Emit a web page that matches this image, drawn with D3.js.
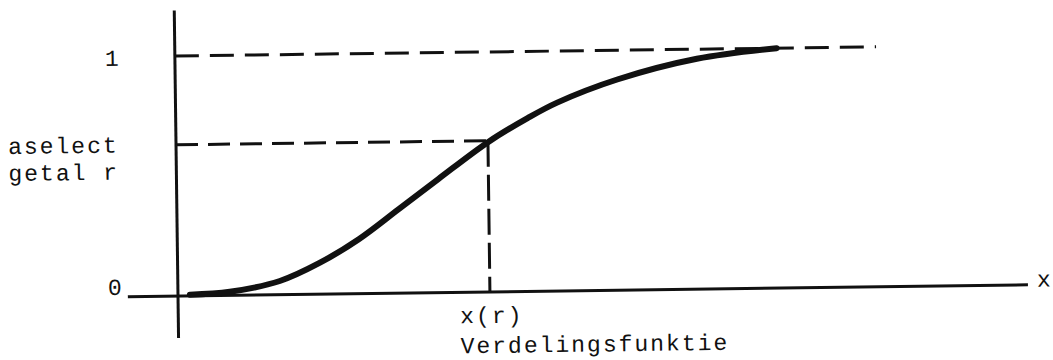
<!DOCTYPE html>
<html>
<head>
<meta charset="utf-8">
<script src="https://cdn.jsdelivr.net/npm/d3@7"></script>
<style>
  body { margin: 0; background: #fff; }
</style>
</head>
<body>
<div id="chart"></div>
<script>
// curve: x in % of the axis length, F(x) between 0 and 1
const curveX = [1.4, 6.1, 12, 16.7, 21.4, 26.1, 30.8, 36.7, 41.4, 44.9, 52, 61.4, 70.8];
const curveF = [0.005, 0.015, 0.057, 0.13, 0.228, 0.35, 0.473, 0.624, 0.722, 0.785, 0.878, 0.96, 1.0];

const rValue = 0.63;     // aselect getal r
const xOfR = 36.7;       // x(r)
const oneLineEnd = 82.5; // where the dashed F = 1 line stops
const yTicks = [0, 1];
const yTickLabels = [`0`, `1`];
const yLabel = [`aselect`, `getal r`];
const xTickLabel = `x(r)`;
const xCaption = `Verdelingsfunktie`;
const xAxisName = `x`;

// Constant
const width = 1053;
const height = 360;
const origin = {x: 178, y: 296};
const tilt = -0.75; // the scan is slightly turned
const fontFamily = `"Liberation Mono", "Courier New", monospace`;
const fontSize = `23px`;
const letterSpacing = `2px`;
const ink = `#111`;

const xScale = d3.scaleLinear().domain([0, 100]).range([0, 850]);
const yScale = d3.scaleLinear().domain([0, 1]).range([0, -240]);

const svg = d3.select(`#chart`)
    .append(`svg`)
        .attr(`width`, width)
        .attr(`height`, height);

svg.append(`rect`)
    .attr(`width`, width)
    .attr(`height`, height)
    .attr(`fill`, `#fff`);

const g = svg.append(`g`)
    .attr(`transform`, `translate(${origin.x},${origin.y}) rotate(${tilt})`);

// axes
g.append(`line`)
    .attr(`x1`, xScale(0)).attr(`x2`, xScale(0))
    .attr(`y1`, yScale(-0.175)).attr(`y2`, yScale(1.19))
    .attr(`stroke`, ink)
    .attr(`stroke-width`, 3);

g.append(`line`)
    .attr(`x1`, xScale(-5.9)).attr(`x2`, xScale(100))
    .attr(`y1`, yScale(0)).attr(`y2`, yScale(0))
    .attr(`stroke`, ink)
    .attr(`stroke-width`, 3);

// dashed helper lines
g.append(`line`)
    .attr(`x1`, xScale(0)).attr(`x2`, xScale(oneLineEnd))
    .attr(`y1`, yScale(1)).attr(`y2`, yScale(1))
    .attr(`stroke`, ink)
    .attr(`stroke-width`, 3)
    .attr(`stroke-dasharray`, `24 11`);

g.append(`line`)
    .attr(`x1`, xScale(0)).attr(`x2`, xScale(xOfR))
    .attr(`y1`, yScale(rValue)).attr(`y2`, yScale(rValue))
    .attr(`stroke`, ink)
    .attr(`stroke-width`, 3)
    .attr(`stroke-dasharray`, `22 10`);

g.append(`line`)
    .attr(`x1`, xScale(xOfR)).attr(`x2`, xScale(xOfR))
    .attr(`y1`, yScale(rValue)).attr(`y2`, yScale(0))
    .attr(`stroke`, ink)
    .attr(`stroke-width`, 3)
    .attr(`stroke-dasharray`, `26 8`);

// the distribution function
const line = d3.line()
    .x(d => xScale(d[0]))
    .y(d => yScale(d[1]))
    .curve(d3.curveCatmullRom);

g.append(`path`)
    .datum(d3.zip(curveX, curveF))
    .attr(`d`, line)
    .attr(`fill`, `none`)
    .attr(`stroke`, ink)
    .attr(`stroke-width`, 6)
    .attr(`stroke-linecap`, `round`);

// labels
const addText = (sel) => sel
    .style(`font-family`, fontFamily)
    .style(`font-size`, fontSize)
    .style(`letter-spacing`, letterSpacing)
    .attr(`fill`, ink);

g.selectAll(`.yTick`)
    .data(yTicks)
    .join(`text`)
        .attr(`class`, `yTick`)
        .attr(`x`, -70)
        .attr(`y`, d => yScale(d) + (d === 0 ? -2 : 9))
        .call(addText)
        .text((d, i) => yTickLabels[i]);

g.selectAll(`.yLabel`)
    .data(yLabel)
    .join(`text`)
        .attr(`class`, `yLabel`)
        .attr(`x`, -168)
        .attr(`y`, (d, i) => yScale(rValue) + 7 + i * 27)
        .call(addText)
        .text(d => d);

g.append(`text`)
    .attr(`x`, xScale(xOfR) - 30)
    .attr(`y`, 31)
    .call(addText)
    .text(xTickLabel);

g.append(`text`)
    .attr(`x`, xScale(xOfR) - 30)
    .attr(`y`, 61)
    .call(addText)
    .text(xCaption);

g.append(`text`)
    .attr(`x`, xScale(100) + 9)
    .attr(`y`, 2)
    .call(addText)
    .text(xAxisName);
</script>
</body>
</html>
